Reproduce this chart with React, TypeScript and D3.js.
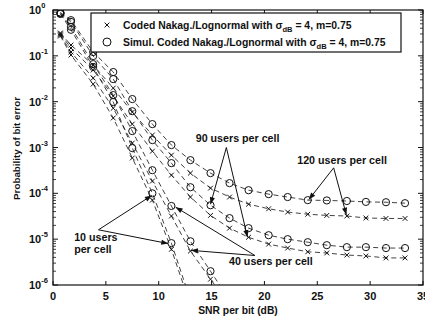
import React from 'react';
import * as d3 from 'd3';

// SNR per bit (dB) at which every curve was evaluated
const snr = [0.7, 1.7, 3.8, 5.7, 7.5, 9.4, 11.2, 13.0, 14.9, 16.7, 18.5, 20.4, 22.2, 24.1, 25.9, 27.8, 29.6, 31.5, 33.3];

// analytical curves (x markers)
const coded10 = [0.27, 0.104, 0.0242, 4.4e-3, 5.9e-4, 7.1e-5, 6.0e-6, 3.6e-7];
const coded40 = [0.285, 0.121, 0.0327, 7.2e-3, 1.25e-3, 1.85e-4, 3.2e-5, 5.5e-6, 1.34e-6, 3.6e-7];
const coded90 = [0.3, 0.148, 0.049, 0.0132, 3.24e-3, 8.3e-4, 2.5e-4, 8.3e-5, 3.3e-5, 1.74e-5, 1.1e-5, 7.8e-6, 6.4e-6, 5.3e-6, 5.0e-6, 4.5e-6, 4.3e-6, 3.9e-6, 3.9e-6];
const coded120 = [0.315, 0.172, 0.063, 0.0198, 5.9e-3, 1.87e-3, 6.8e-4, 2.76e-4, 1.3e-4, 8.3e-5, 5.8e-5, 4.6e-5, 3.9e-5, 3.5e-5, 3.3e-5, 3.2e-5, 2.9e-5, 2.83e-5, 2.83e-5];

// simulated curves (o markers)
const simul10 = [0.82, 0.37, 0.057, 9.8e-3, 9.7e-4, 1.0e-4, 8.2e-6, 4.7e-7];
const simul40 = [0.84, 0.43, 0.066, 0.0139, 2.28e-3, 3.2e-4, 5.3e-5, 9.0e-6, 2.0e-6, 4.7e-7];
const simul90 = [0.86, 0.55, 0.099, 0.0311, 6.2e-3, 1.45e-3, 4.56e-4, 1.36e-4, 5.5e-5, 2.88e-5, 1.74e-5, 1.22e-5, 1.0e-5, 8.6e-6, 7.4e-6, 6.7e-6, 6.7e-6, 6.4e-6, 6.4e-6];
const simul120 = [0.88, 0.6, 0.121, 0.0443, 0.0114, 3.24e-3, 1.13e-3, 5.3e-4, 2.76e-4, 1.67e-4, 1.17e-4, 9.6e-5, 8.3e-5, 7.1e-5, 7.0e-5, 6.8e-5, 6.5e-5, 6.4e-5, 6.1e-5];

const xTicks = [0, 5, 10, 15, 20, 25, 30, 35];
const yExponents = [0, -1, -2, -3, -4, -5, -6];

const legendLabels = ['Coded Nakag./Lognormal with σ', 'Simul. Coded Nakag./Lognormal with σ'];

// annotations: text lines, text anchor (data units), arrow start and arrow tips (data units)
const notes = [
    {lines: ['90 users per cell'], at: [13.5, 1.31e-3], from: [16.4, 1.0e-3], tips: [[14.9, 5.8e-5], [18.4, 1.1e-5]]},
    {lines: ['120 users per cell'], at: [23.1, 4.3e-4], from: [26.55, 3.6e-4], tips: [[24.2, 7.3e-5], [27.75, 3.4e-5]]},
    {lines: ['40 users per cell'], at: [16.65, 2.7e-6], from: [19.1, 4.4e-6], tips: [[11.6, 5.0e-5], [13.05, 5.7e-6]]},
    {lines: ['10 users', 'per cell'], at: [2.0, 9.0e-6], from: [4.3, 1.6e-5], tips: [[9.35, 9.0e-5], [10.9, 8.0e-6]]},
];

const width = 425;
const height = 322;
const margins = {top: 10, right: 2, bottom: 37, left: 53};
const innerWidth = width - margins.left - margins.right;
const innerHeight = height - margins.top - margins.bottom;

const font = '"Liberation Sans", Arial, sans-serif';
const ink = '#111';

const Cross = ({x, y, s}: {x: number, y: number, s: number}) => (
    <path d={`M${x - s},${y - s}L${x + s},${y + s}M${x - s},${y + s}L${x + s},${y - s}`} stroke={ink} strokeWidth={1}/>
);

const App = () => {
    const xScale = d3.scaleLinear().domain([0, 35]).range([0, innerWidth]);
    const yScale = d3.scaleLog().domain([1e-6, 1]).range([innerHeight, 0]);

    const line = d3.line<[number, number]>().x(d => xScale(d[0])).y(d => yScale(d[1]));

    const series = [
        {values: coded10, mark: 'x'}, {values: coded40, mark: 'x'},
        {values: coded90, mark: 'x'}, {values: coded120, mark: 'x'},
        {values: simul10, mark: 'o'}, {values: simul40, mark: 'o'},
        {values: simul90, mark: 'o'}, {values: simul120, mark: 'o'},
    ].map(s => ({...s, pts: s.values.map((v, i) => [snr[i], v] as [number, number])}));

    const minor: number[] = [];
    yExponents.slice(1).forEach(e => {
        for (let m = 2; m <= 9; m++) minor.push(m * Math.pow(10, e));
    });

    const arrowHead = (x1: number, y1: number, x2: number, y2: number) => {
        const a = Math.atan2(y2 - y1, x2 - x1);
        const L = 7, W = 2.6;
        const bx = x2 - L * Math.cos(a), by = y2 - L * Math.sin(a);
        const px = -Math.sin(a) * W, py = Math.cos(a) * W;
        return `M${x2},${y2}L${bx + px},${by + py}L${bx - px},${by - py}Z`;
    };

    return (
        <svg width={width} height={height} style={{position: 'absolute', left: 0, top: 0, background: '#fff'}}
             fontFamily={font} fontWeight="bold">
            <defs>
                <clipPath id="plot">
                    <rect x={0} y={0} width={innerWidth} height={innerHeight}/>
                </clipPath>
            </defs>
            <g transform={`translate(${margins.left}, ${margins.top})`}>
                {/* curves */}
                <g clipPath="url(#plot)">
                    {series.map((s, i) => (
                        <g key={i}>
                            <path d={line(s.pts) || ''} fill="none" stroke={ink} strokeWidth={0.8} strokeDasharray="5,3.5"/>
                            {s.pts.map((p, j) => s.mark === 'x'
                                ? <Cross key={j} x={xScale(p[0])} y={yScale(p[1])} s={2.4}/>
                                : <circle key={j} cx={xScale(p[0])} cy={yScale(p[1])} r={3.6} fill="none" stroke={ink} strokeWidth={1}/>
                            )}
                        </g>
                    ))}
                </g>

                {/* axes box and ticks */}
                <rect x={0} y={0} width={innerWidth} height={innerHeight} fill="none" stroke={ink} strokeWidth={1.2}/>
                {xTicks.map(t => (
                    <g key={t}>
                        <line x1={xScale(t)} x2={xScale(t)} y1={innerHeight} y2={innerHeight - 4} stroke={ink}/>
                        <line x1={xScale(t)} x2={xScale(t)} y1={0} y2={4} stroke={ink}/>
                        <text x={xScale(t)} y={innerHeight + 15} textAnchor="middle" fontSize={11} fill={ink}>{t}</text>
                    </g>
                ))}
                {yExponents.map(e => (
                    <g key={e}>
                        <line x1={0} x2={5} y1={yScale(Math.pow(10, e))} y2={yScale(Math.pow(10, e))} stroke={ink}/>
                        <line x1={innerWidth} x2={innerWidth - 5} y1={yScale(Math.pow(10, e))} y2={yScale(Math.pow(10, e))} stroke={ink}/>
                        <text x={-24} y={yScale(Math.pow(10, e)) + 4} fontSize={11} fill={ink}>
                            10<tspan fontSize={7.5} dy={-6}>{e}</tspan>
                        </text>
                    </g>
                ))}
                {minor.map((m, i) => (
                    <g key={i}>
                        <line x1={0} x2={3} y1={yScale(m)} y2={yScale(m)} stroke={ink} strokeWidth={0.8}/>
                        <line x1={innerWidth} x2={innerWidth - 3} y1={yScale(m)} y2={yScale(m)} stroke={ink} strokeWidth={0.8}/>
                    </g>
                ))}

                {/* legend */}
                <g>
                    <rect x={38} y={3} width={310} height={39} fill="#fff" stroke={ink} strokeWidth={1.2}/>
                    <Cross x={54} y={15} s={2.4}/>
                    <circle cx={54} cy={32} r={4} fill="none" stroke={ink} strokeWidth={1}/>
                    {legendLabels.map((l, i) => (
                        <text key={i} x={70} y={19 + i * 17} fontSize={10.4} fill={ink}>
                            {l}<tspan fontSize={7.5} dy={3}>dB</tspan><tspan dy={-3}> = 4, m=0.75</tspan>
                        </text>
                    ))}
                </g>

                {/* annotations */}
                {notes.map((n, i) => {
                    const fx = xScale(n.from[0]), fy = yScale(n.from[1]);
                    return (
                        <g key={i}>
                            {n.lines.map((t, j) => (
                                <text key={j} x={xScale(n.at[0])} y={yScale(n.at[1]) + j * 12} fontSize={10.7} fill={ink}>{t}</text>
                            ))}
                            {n.tips.map((tp, j) => {
                                const tx = xScale(tp[0]), ty = yScale(tp[1]);
                                return (
                                    <g key={j}>
                                        <line x1={fx} y1={fy} x2={tx} y2={ty} stroke={ink} strokeWidth={1}/>
                                        <path d={arrowHead(fx, fy, tx, ty)} fill={ink}/>
                                    </g>
                                );
                            })}
                        </g>
                    );
                })}

                {/* axis titles */}
                <text x={innerWidth / 2 + 0} y={innerHeight + 29} textAnchor="middle" fontSize={10.3} fill={ink}>SNR per bit (dB)</text>
                <text transform={`translate(${-33}, ${innerHeight / 2 + 1}) rotate(-90)`} textAnchor="middle" fontSize={9.8} fill={ink}>Probability of bit error</text>
            </g>
        </svg>
    );
};

export default App;
